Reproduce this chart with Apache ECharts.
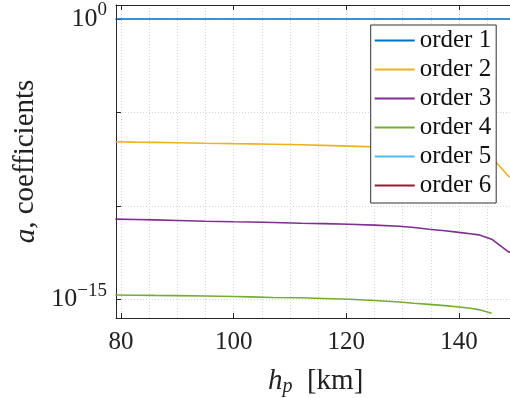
<!DOCTYPE html>
<html>
<head>
<meta charset="utf-8">
<script src="https://cdn.jsdelivr.net/npm/echarts@6/dist/echarts.min.js"></script>
<style>html,body{margin:0;padding:0;background:#fff}#c{width:510px;height:398px}</style>
</head>
<body>
<div id="c"></div>
<script>
// altitude h_p [km]
const hp = [79, 82.5, 86, 90, 95, 100, 103, 107, 112, 116, 120.5, 125, 129.4, 132, 134.7, 137.5, 140, 142, 143.5, 145.8, 148.8, 150];
// coefficient values (order 1 direct, others read as log10)
const order1 = [1, 1, 1, 1, 1, 1, 1, 1, 1, 1, 1, 1, 1, 1, 1, 1, 1, 1, 1, 1, 1, 1];
const order2Log = [-6.57, -6.59, -6.60, -6.62, -6.65, -6.67, -6.68, -6.70, -6.73, -6.76, -6.80, -6.84, -6.89, -6.93, -6.98, -7.03, -7.09, -7.16, -7.22, -7.40, -8.41, -8.52];
const order3Log = [-10.71, -10.73, -10.75, -10.78, -10.82, -10.85, -10.86, -10.89, -10.93, -10.95, -10.98, -11.03, -11.09, -11.16, -11.25, -11.33, -11.42, -11.49, -11.55, -11.78, -12.46, -12.53];
const order4Log = [-14.77, -14.78, -14.79, -14.80, -14.82, -14.85, -14.87, -14.90, -14.92, -14.96, -15.00, -15.06, -15.14, -15.21, -15.27, -15.34, -15.41, -15.48, -15.55, -15.75, null, null];
const order5 = [];
const order6 = [];
const seriesNames = ['order 1', 'order 2', 'order 3', 'order 4', 'order 5', 'order 6'];
const colors = ['#0072BD', '#EDB120', '#7E2F8E', '#77AC30', '#4DBEEE', '#A2142F'];
const xTicks = [80, 100, 120, 140];
const xGrid = [80, 85, 90, 95, 100, 105, 110, 115, 120, 125, 130, 135, 140, 145, 150];
const yTicks = [1e-15, 1e-10, 1e-5, 1];
const yLabels = [1e-15, 1];

const fromLog = a => a.map(v => v === null ? null : Math.pow(10, v));
const pair = arr => hp.map((x, i) => [x, arr[i]]).filter(p => p[1] !== null && p[1] !== undefined);
const dataSets = [order1, fromLog(order2Log), fromLog(order3Log), fromLog(order4Log), order5, order6];

const FONT = 'Liberation Serif';
const AX = '#262626';

const chart = echarts.init(document.getElementById('c'), null, {renderer: 'canvas'});
chart.setOption({
  animation: false,
  backgroundColor: '#fff',
  textStyle: {fontFamily: FONT},
  grid: {left: 116, top: 5, width: 399.3, bottom: 80, containLabel: false, outerBoundsMode: 'none'},
  legend: {
    orient: 'vertical', left: 370.7, top: 25,
    data: seriesNames,
    icon: 'rect',
    itemWidth: 40, itemHeight: 2, itemGap: 0,
    padding: [1, 5, 3, 4],
    backgroundColor: '#fff', borderColor: '#333', borderWidth: 1,
    textStyle: {fontFamily: FONT, fontSize: 25, color: '#111', lineHeight: 29}
  },
  xAxis: [
    {
      type: 'value', min: 79.11, max: 150, position: 'bottom',
      name: '{i|h}{sub|p}{n|  [km]}', nameLocation: 'middle', nameGap: 47,
      nameTextStyle: {rich: {
        i: {fontFamily: FONT, fontStyle: 'italic', fontSize: 29, color: '#222'},
        sub: {fontFamily: FONT, fontStyle: 'italic', fontSize: 20, color: '#222', padding: [12, 0, 0, 0]},
        n: {fontFamily: FONT, fontSize: 29, color: '#222'}
      }},
      axisLine: {show: true, lineStyle: {color: AX, width: 1}},
      axisTick: {show: true, inside: true, length: 5, customValues: xTicks, lineStyle: {color: AX}},
      axisLabel: {show: true, customValues: xTicks, margin: 12, fontFamily: FONT, fontSize: 25, color: '#222'},
      splitLine: {show: false}
    },
    {
      type: 'value', min: 79.11, max: 150, position: 'top',
      axisLine: {show: true, onZero: false, lineStyle: {color: AX, width: 1}},
      axisTick: {show: true, inside: true, length: 5, customValues: xTicks, lineStyle: {color: AX}},
      axisLabel: {show: false},
      splitLine: {show: false}
    },
    {
      type: 'value', min: 79.11, max: 150, position: 'bottom',
      axisLine: {show: false},
      axisTick: {show: false, customValues: xGrid},
      axisLabel: {show: false, customValues: xGrid},
      splitLine: {show: true, lineStyle: {color: '#d4d4d4', type: [1, 2], width: 1}}
    }
  ],
  yAxis: [
    {
      type: 'log', min: 1e-16, max: Math.pow(10, 0.75), logBase: 10,
      name: '{i|a}{n|, coefficients}', nameLocation: 'middle', nameGap: 72, nameRotate: 90,
      nameTextStyle: {rich: {
        i: {fontFamily: FONT, fontStyle: 'italic', fontSize: 29, color: '#222'},
        n: {fontFamily: FONT, fontSize: 29, color: '#222'}
      }},
      axisLine: {show: true, lineStyle: {color: AX, width: 1}},
      axisTick: {show: true, inside: true, length: 5, customValues: yTicks, lineStyle: {color: AX}},
      axisLabel: {
        show: true, customValues: yLabels, margin: 9,
        formatter: v => {
          const e = Math.round(Math.log10(v));
          return '{b|10}{s|' + (e < 0 ? '\u2212' + (-e) : e) + '}';
        },
        rich: {
          b: {fontFamily: FONT, fontSize: 26, color: '#222'},
          s: {fontFamily: FONT, fontSize: 19, color: '#222', padding: [0, 0, 17, 0]}
        }
      },
      splitLine: {show: true, lineStyle: {color: '#d4d4d4', type: [1, 2], width: 1}}
    }
  ],
  series: seriesNames.map((n, k) => ({
    name: n, type: 'line', xAxisIndex: 0, yAxisIndex: 0,
    data: pair(dataSets[k]),
    symbol: 'none', smooth: false, clip: true,
    color: colors[k],
    lineStyle: {color: colors[k], width: 1.6}
  }))
});
</script>
</body>
</html>
